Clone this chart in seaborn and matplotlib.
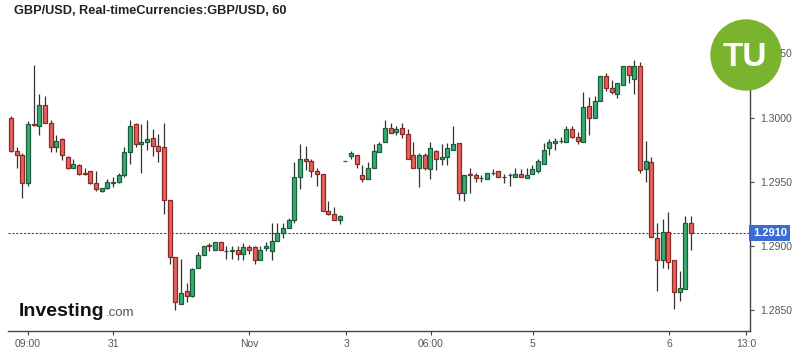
import numpy as np
import pandas as pd
import matplotlib
matplotlib.use("Agg")
import matplotlib.pyplot as plt
from matplotlib.patches import Circle
import seaborn as sns

# GBP/USD hourly candles
opens = [1.3000, 1.2974, 1.2971, 1.2949, 1.2995, 1.2993, 1.3010, 1.2996, 1.2977, 1.2983,
         1.2969, 1.2961, 1.2963, 1.2957, 1.2958, 1.2949, 1.2943, 1.2945, 1.2949, 1.2950,
         1.2955, 1.2973, 1.2995, 1.2979, 1.2981, 1.2984, 1.2978, 1.2977, 1.2936, 1.2891,
         1.2855, 1.2865, 1.2861, 1.2883, 1.2893, 1.2901, 1.2897, 1.2903, 1.2896, 1.2896,
         1.2897, 1.2894, 1.2899, 1.2899, 1.2889, 1.2898, 1.2896, 1.2904, 1.2910, 1.2914,
         1.2920, 1.2954, 1.2968, 1.2966, 1.2958, 1.2956, 1.2927, 1.2925, 1.2920, 1.2966,
         1.2970, 1.2971, 1.2955, 1.2952, 1.2961, 1.2973, 1.2981, 1.2992, 1.2989, 1.2992,
         1.2987, 1.2971, 1.2961, 1.2971, 1.2960, 1.2974, 1.2968, 1.2969, 1.2975, 1.2980,
         1.2941, 1.2956, 1.2955, 1.2953, 1.2952, 1.2957, 1.2958, 1.2954, 1.2955, 1.2954,
         1.2956, 1.2953, 1.2956, 1.2958, 1.2964, 1.2976, 1.2980, 1.2982, 1.2981, 1.2991,
         1.2985, 1.2981, 1.3009, 1.3000, 1.3013, 1.3032, 1.3023, 1.3018, 1.3025, 1.3040,
         1.3030, 1.3040, 1.2960, 1.2965, 1.2906, 1.2889, 1.2911, 1.2889, 1.2864, 1.2866,
         1.2918]
highs = [1.3001, 1.2977, 1.2972, 1.2997, 1.3041, 1.3018, 1.3017, 1.2998, 1.2986, 1.2984,
         1.2970, 1.2968, 1.2964, 1.2961, 1.2958, 1.2958, 1.2945, 1.2952, 1.2954, 1.2957,
         1.2977, 1.2998, 1.2996, 1.2995, 1.2998, 1.2991, 1.2987, 1.2996, 1.2936, 1.2891,
         1.2890, 1.2871, 1.2883, 1.2895, 1.2900, 1.2902, 1.2903, 1.2903, 1.2900, 1.2900,
         1.2900, 1.2902, 1.2901, 1.2900, 1.2900, 1.2903, 1.2918, 1.2918, 1.2918, 1.2922,
         1.2965, 1.2979, 1.2978, 1.2968, 1.2961, 1.2956, 1.2935, 1.2930, 1.2924, 1.2966,
         1.2974, 1.2971, 1.2963, 1.2965, 1.2979, 1.2981, 1.2998, 1.2996, 1.2993, 1.2996,
         1.2991, 1.2981, 1.2972, 1.2972, 1.2981, 1.2975, 1.2979, 1.2980, 1.2993, 1.2980,
         1.2955, 1.2961, 1.2957, 1.2955, 1.2957, 1.2960, 1.2958, 1.2956, 1.2957, 1.2961,
         1.2960, 1.2961, 1.2963, 1.2968, 1.2980, 1.2983, 1.2984, 1.2985, 1.2993, 1.2993,
         1.2989, 1.3020, 1.3016, 1.3017, 1.3032, 1.3035, 1.3029, 1.3027, 1.3040, 1.3040,
         1.3045, 1.3043, 1.2982, 1.2969, 1.2918, 1.2921, 1.2926, 1.2889, 1.2880, 1.2923,
         1.2923]
lows = [1.2973, 1.2961, 1.2937, 1.2947, 1.2993, 1.2986, 1.2996, 1.2973, 1.2973, 1.2967,
        1.2960, 1.2961, 1.2955, 1.2955, 1.2948, 1.2943, 1.2942, 1.2944, 1.2946, 1.2949,
        1.2954, 1.2964, 1.2977, 1.2957, 1.2975, 1.2970, 1.2965, 1.2925, 1.2886, 1.2850,
        1.2855, 1.2856, 1.2860, 1.2883, 1.2893, 1.2896, 1.2897, 1.2897, 1.2890, 1.2890,
        1.2889, 1.2889, 1.2894, 1.2886, 1.2889, 1.2896, 1.2889, 1.2904, 1.2906, 1.2914,
        1.2918, 1.2944, 1.2959, 1.2954, 1.2947, 1.2927, 1.2924, 1.2920, 1.2917, 1.2966,
        1.2968, 1.2961, 1.2950, 1.2952, 1.2961, 1.2973, 1.2981, 1.2988, 1.2986, 1.2984,
        1.2968, 1.2961, 1.2946, 1.2959, 1.2952, 1.2959, 1.2963, 1.2963, 1.2975, 1.2936,
        1.2935, 1.2941, 1.2950, 1.2950, 1.2952, 1.2955, 1.2954, 1.2949, 1.2947, 1.2954,
        1.2954, 1.2953, 1.2956, 1.2957, 1.2964, 1.2971, 1.2975, 1.2980, 1.2981, 1.2984,
        1.2979, 1.2981, 1.2986, 1.3000, 1.3013, 1.3021, 1.3018, 1.3015, 1.3025, 1.3027,
        1.3018, 1.2957, 1.2950, 1.2907, 1.2865, 1.2883, 1.2882, 1.2851, 1.2857, 1.2866,
        1.2897]
closes = [1.2974, 1.2971, 1.2949, 1.2995, 1.2994, 1.3010, 1.2996, 1.2977, 1.2982, 1.2971,
          1.2961, 1.2964, 1.2956, 1.2956, 1.2949, 1.2944, 1.2945, 1.2950, 1.2950, 1.2955,
          1.2973, 1.2993, 1.2979, 1.2981, 1.2983, 1.2978, 1.2974, 1.2936, 1.2891, 1.2856,
          1.2863, 1.2861, 1.2882, 1.2893, 1.2900, 1.2900, 1.2903, 1.2897, 1.2896, 1.2897,
          1.2894, 1.2899, 1.2897, 1.2889, 1.2897, 1.2900, 1.2904, 1.2910, 1.2914, 1.2920,
          1.2954, 1.2968, 1.2966, 1.2958, 1.2956, 1.2927, 1.2925, 1.2920, 1.2923, 1.2966,
          1.2972, 1.2964, 1.2952, 1.2961, 1.2974, 1.2979, 1.2992, 1.2988, 1.2991, 1.2987,
          1.2968, 1.2961, 1.2971, 1.2961, 1.2976, 1.2968, 1.2969, 1.2976, 1.2979, 1.2941,
          1.2955, 1.2955, 1.2953, 1.2953, 1.2957, 1.2957, 1.2954, 1.2954, 1.2955, 1.2956,
          1.2954, 1.2955, 1.2960, 1.2966, 1.2975, 1.2981, 1.2982, 1.2982, 1.2991, 1.2985,
          1.2982, 1.3008, 1.3000, 1.3013, 1.3032, 1.3023, 1.3020, 1.3027, 1.3040, 1.3033,
          1.3040, 1.2959, 1.2966, 1.2907, 1.2889, 1.2911, 1.2887, 1.2864, 1.2867, 1.2918,
          1.2910]

tick_pos = [3, 18, 42, 59.2, 74.1, 92.1, 116.1, 129.7]
tick_labels = ["09:00", "31", "Nov", "3", "06:00", "5", "6", "13:0"]
price_ticks = [1.2850, 1.2900, 1.2950, 1.3000, 1.3050]
last_price = 1.2910

df = pd.DataFrame({"open": opens, "high": highs, "low": lows, "close": closes})
df["idx"] = np.arange(len(df))
df["up"] = df["close"] >= df["open"]

sns.set_theme(style="white")
plt.rcParams["font.family"] = ["Liberation Sans", "DejaVu Sans"]

fig = plt.figure(figsize=(8, 3.51), dpi=100)
ax = fig.add_axes([0.01, 20 / 351, 742 / 800, 301 / 351])

green, green_edge = "#36ad72", "#1f5c3c"
red, red_edge = "#e6625d", "#8c2a26"

# wicks
ax.vlines(df["idx"], df["low"], df["high"], color="#333333", lw=0.9, zorder=1)

# bodies
body_lo = df[["open", "close"]].min(axis=1)
body_h = (df["close"] - df["open"]).abs()
ax.bar(df["idx"], body_h, bottom=body_lo, width=0.74,
       color=np.where(df["up"], green, red),
       edgecolor=np.where(df["up"], green_edge, red_edge),
       linewidth=0.9, zorder=2)

# last price line
ax.axhline(last_price, color="#34507a", lw=0.8, ls=(0, (2, 1.5)), zorder=0)

ax.set_xlim(-0.53, 130.4)
ax.set_ylim(1.28336, 1.30682)

ax.yaxis.tick_right()
ax.set_yticks(price_ticks)
ax.set_yticklabels([f"{p:.4f}" for p in price_ticks])
ax.set_xticks(tick_pos)
ax.set_xticklabels(tick_labels)
ax.tick_params(axis="both", which="major", direction="out", length=3, width=0.8,
               color="#444444", labelcolor="#555555", labelsize=7.5, pad=3,
               bottom=True, right=True, left=False)
ax.tick_params(axis="y", pad=4)

for side in ["top", "left"]:
    ax.spines[side].set_visible(False)
for side in ["bottom", "right"]:
    ax.spines[side].set_visible(True)
    ax.spines[side].set_color("#444444")
    ax.spines[side].set_linewidth(1.0)

# current price tag
ax.annotate(f"{last_price:.4f}", xy=(1.0, last_price), xycoords=("axes fraction", "data"),
            xytext=(2, 0), textcoords="offset points", va="center", ha="left",
            fontsize=8, fontweight="bold", color="white",
            bbox=dict(boxstyle="square,pad=0.3", fc="#3d6bd6", ec="none"),
            annotation_clip=False, zorder=5)

# title
fig.text(14 / 800, 1 - 14 / 351, "GBP/USD, Real-timeCurrencies:GBP/USD, 60",
         fontsize=9.2, fontweight="bold", color="#222222", va="baseline")

# Investing.com watermark
fig.text(19 / 800, 1 - 316 / 351, "Investing", fontsize=14, fontweight="bold",
         color="#111111", va="baseline")
fig.text(106 / 800, 1 - 316 / 351, ".com", fontsize=9.5, color="#555555",
         va="baseline")

# TU badge
fig.patches.append(Circle((746, 351 - 55), 35, transform=None, color="#7ab32e", zorder=10))
fig.text(745 / 800, 1 - 57 / 351, "TU", fontsize=24, fontweight="bold", color="white",
         ha="center", va="center", zorder=11)

fig.savefig("out.png", dpi=100)
